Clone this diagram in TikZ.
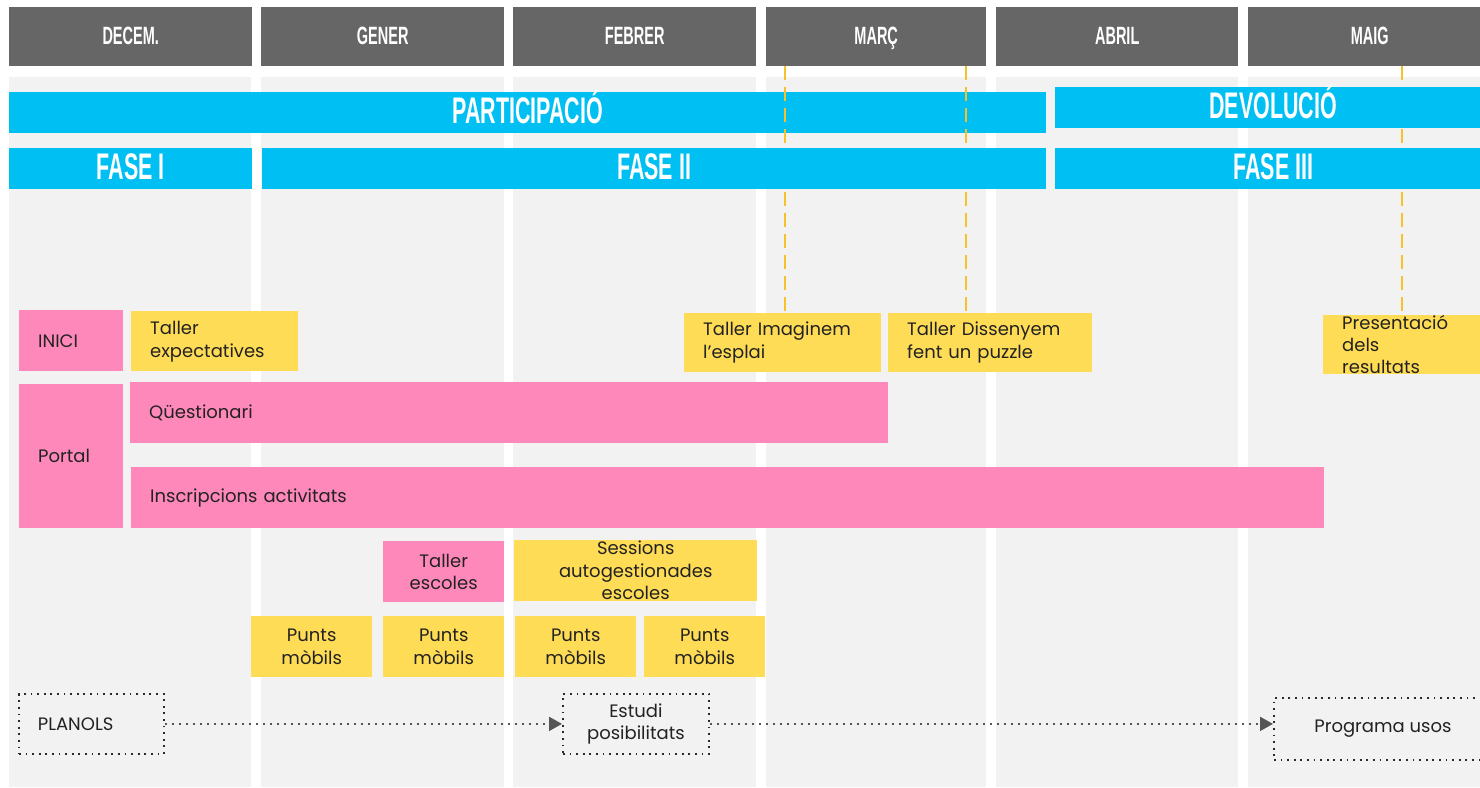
\documentclass[tikz,border=0pt]{standalone}
\usepackage{fontspec}
\setmainfont{Poppins}
\newfontfamily\headfont[FakeStretch=0.58]{Liberation Sans}
\usetikzlibrary{arrows.meta}
\definecolor{hdrgray}{HTML}{666666}
\definecolor{colbg}{HTML}{F2F2F2}
\definecolor{barblue}{HTML}{00BFF3}
\definecolor{pinkc}{HTML}{FF88BB}
\definecolor{yellowc}{HTML}{FFDC55}
\definecolor{goldc}{HTML}{F6C12A}
\definecolor{txt}{HTML}{222222}
\definecolor{dotc}{HTML}{2A2A2A}
\definecolor{arrc}{HTML}{555555}
\begin{document}
\begin{tikzpicture}[x=1pt,y=-1pt,
 month/.style={fill=hdrgray, text=white, font=\headfont\bfseries\fontsize{25}{25}\selectfont, inner sep=0pt, anchor=north west, minimum height=59pt, text height=18pt, text depth=3pt},
 bar/.style={fill=barblue, text=white, font=\headfont\bfseries\fontsize{37}{37}\selectfont, inner sep=0pt, anchor=north west, minimum height=41pt, text height=27pt, text depth=5pt},
 lbox/.style={inner xsep=19pt, inner ysep=0pt, align=left, anchor=north west, text=txt, font=\fontsize{18}{23}\selectfont},
 cbox/.style={inner sep=0pt, align=center, anchor=north west, text=txt, font=\fontsize{18}{22.5}\selectfont},
 pinkbox/.style={fill=pinkc}, yelbox/.style={fill=yellowc},
 dotbox/.style={draw=dotc, line width=1.8pt, dash pattern=on 1.8pt off 4.8pt},
 guide/.style={draw=goldc, line width=1.6pt, dash pattern=on 14pt off 7pt},
 flow/.style={draw=arrc, line width=2pt, dash pattern=on 2pt off 5pt, -{Triangle[length=13pt,width=14pt]}}]
\useasboundingbox (0,0) rectangle (1480,787);
\clip (0,0) rectangle (1480,787);
% column backgrounds
\fill[colbg] (9,77) rectangle (251,787);
\fill[colbg] (261,77) rectangle (504,787);
\fill[colbg] (513,77) rectangle (756,787);
\fill[colbg] (766,77) rectangle (986,787);
\fill[colbg] (996,77) rectangle (1238,787);
\fill[colbg] (1248,77) rectangle (1491,787);
% month headers
\node[month, minimum width=243pt] (m1) at (9,7) {DECEM.};
\node[month, minimum width=243pt] (m2) at (261,7) {GENER};
\node[month, minimum width=243pt] (m3) at (513,7) {FEBRER};
\node[month, minimum width=220pt] (m4) at (766,7) {MARÇ};
\node[month, minimum width=242pt] (m5) at (996,7) {ABRIL};
\node[month, minimum width=243pt] (m6) at (1248,7) {MAIG};
% participacio bar
\node[bar, minimum width=1037pt] (part) at (9,92) {PARTICIPACIÓ};
% boxes
\node[lbox, pinkbox, text width=66pt, minimum height=61pt] (inici) at (19,310) {INICI};
\node[lbox, yelbox, text width=129pt, minimum height=60pt] (texp) at (131,311) {Taller\\expectatives};
\node[lbox, pinkbox, text width=66pt, minimum height=144pt] (portal) at (19,384) {Portal};
\node[lbox, pinkbox, text width=720pt, minimum height=61pt] (quest) at (130,382) {Qüestionari};
\node[lbox, pinkbox, text width=1155pt, minimum height=61pt] (inscr) at (131,467) {Inscripcions activitats};
\node[lbox, yelbox, text width=159pt, minimum height=59pt] (timag) at (684,313) {Taller Imaginem\\l’esplai};
\node[lbox, yelbox, text width=166pt, minimum height=59pt] (tdiss) at (888,313) {Taller Dissenyem\\fent un puzzle};
\node[lbox, yelbox, text width=130pt, minimum height=59pt, font=\fontsize{18}{22}\selectfont] (pres) at (1323,315) {Presentació\\dels\\resultats};
% guide lines
\coordinate (g1) at (785,66);
\coordinate (g2) at (966,66);
\coordinate (g3) at (1402,66);
\draw[guide] (g1) -- (g1 |- timag.north);
\draw[guide] (g2) -- (g2 |- tdiss.north);
\draw[guide] (g3) -- (g3 |- pres.north);
% other bars
\node[bar, minimum width=436pt, minimum height=41pt] (devol) at (1055,87) {DEVOLUCIÓ};
\node[bar, minimum width=243pt] (fase1) at (9,148) {FASE I};
\node[bar, minimum width=784pt] (fase2) at (262,148) {FASE II};
\node[bar, minimum width=436pt] (fase3) at (1055,148) {FASE III};
% centered boxes
\node[cbox, pinkbox, minimum width=121pt, minimum height=61pt] (tesc) at (383,541) {Taller\\escoles};
\node[cbox, yelbox, minimum width=243pt, minimum height=61pt] (sess) at (514,540) {Sessions\\autogestionades\\escoles};
\node[cbox, yelbox, minimum width=121pt, minimum height=61pt] (pm1) at (251,616) {Punts\\mòbils};
\node[cbox, yelbox, minimum width=121pt, minimum height=61pt] (pm2) at (383,616) {Punts\\mòbils};
\node[cbox, yelbox, minimum width=121pt, minimum height=61pt] (pm3) at (515,616) {Punts\\mòbils};
\node[cbox, yelbox, minimum width=121pt, minimum height=61pt] (pm4) at (644,616) {Punts\\mòbils};
% dotted boxes
\node[lbox, dotbox, text width=107pt, minimum height=60pt] (planols) at (18,693) {PLANOLS};
\node[cbox, dotbox, minimum width=146pt, minimum height=60pt] (estudi) at (562,693) {Estudi\\posibilitats};
\node[cbox, dotbox, minimum width=218pt, minimum height=62pt] (prog) at (1273,697) {Programa usos};
% flow
\draw[flow] (planols.east) -- (estudi.west);
\draw[flow] (estudi.east) -- (estudi.east -| prog.west);
\end{tikzpicture}
\end{document}
